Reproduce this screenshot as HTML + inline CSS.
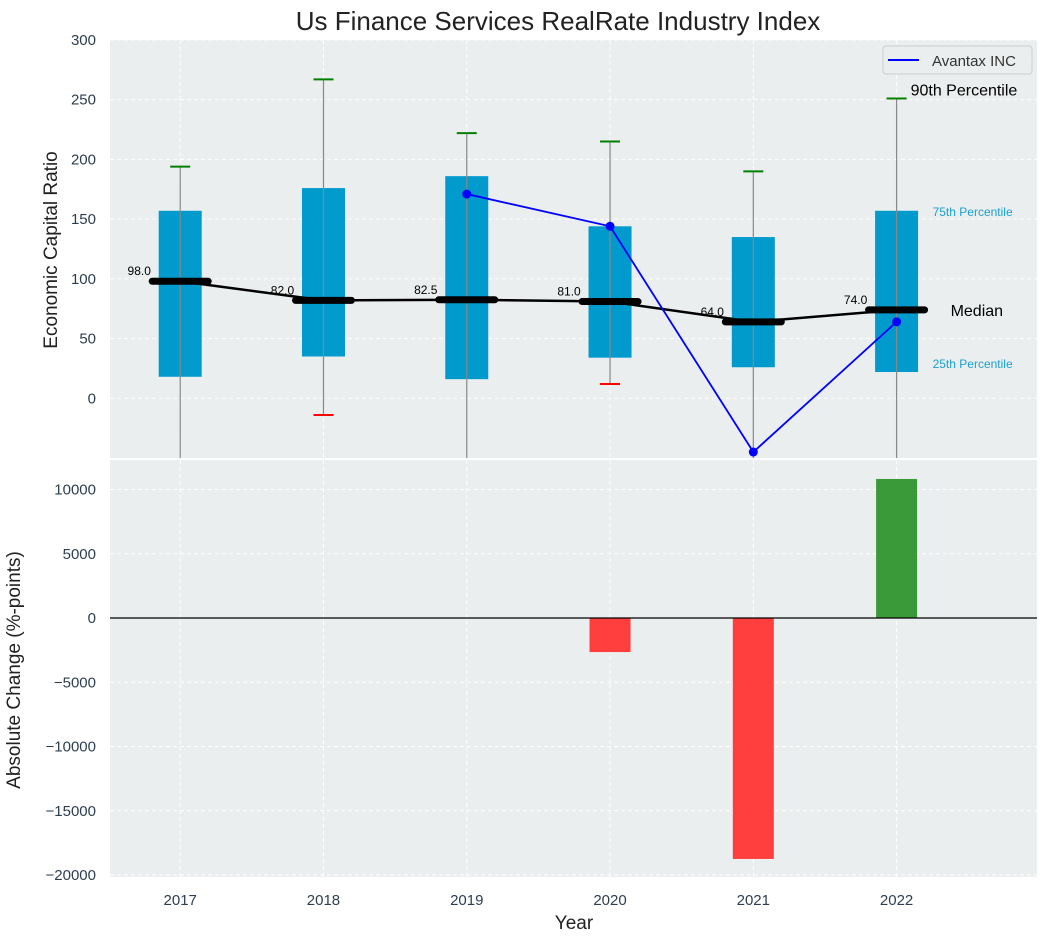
<!DOCTYPE html>
<html><head><meta charset="utf-8"><style>
body{margin:0;background:#fff;}
svg{font-family:"Liberation Sans","DejaVu Sans",sans-serif;}
</style></head><body>
<svg id="c" width="1048" height="942" xmlns="http://www.w3.org/2000/svg">
<text x="558" y="30" font-size="26" text-anchor="middle" fill="#222">Us Finance Services RealRate Industry Index</text>
<rect x="110" y="40" width="927" height="418" fill="#ebeeee"/>
<rect x="110" y="460" width="927" height="417" fill="#ebeeee"/>
<g id="g"></g>
<text transform="translate(57,250) rotate(-90)" font-size="19" text-anchor="middle" fill="#222">Economic Capital Ratio</text>
<text transform="translate(20,670) rotate(-90)" font-size="19" text-anchor="middle" fill="#222">Absolute Change (%-points)</text>
<text x="574" y="929" font-size="19" text-anchor="middle" fill="#222">Year</text>
<g>
<rect x="883" y="46" width="149" height="28" rx="3" fill="#ebeeee" stroke="#ccc"/>
<line x1="888" y1="60" x2="919" y2="60" stroke="#0000ff" stroke-width="2"/>
<text x="932" y="66" font-size="15" fill="#333">Avantax INC</text>
</g>
</svg>
<script>
const years=[2017,2018,2019,2020,2021,2022];
const q1=[18,35,16,34,26,22];
const q3=[157,176,186,144,135,157];
const med=[98,82,82.5,81,64,74];
const p90=[194,267,222,215,190,251];
const p10=[-80,-14,-80,12,-80,-80];
const avYears=[2019,2020,2021,2022];
const avVals=[171,144,-45,64];
const chg=[0,0,0,-2650,-18750,10820];
const yTicks=[0,50,100,150,200,250,300];
const cTicks=[-20000,-15000,-10000,-5000,0,5000,10000];

const NS="http://www.w3.org/2000/svg";
const g=document.getElementById('g');
const X=v=>110+(v-2016.51)/(2022.98-2016.51)*927;
const Y=v=>458-(v+50)/350*418;
const C=v=>618-v*0.01285;
function el(t,a,txt){const e=document.createElementNS(NS,t);for(const k in a)e.setAttribute(k,a[k]);if(txt!==undefined)e.textContent=txt;g.appendChild(e);return e;}
yTicks.forEach(t=>{let e=el('line',{x1:110,x2:1037,y1:Y(t),y2:Y(t),stroke:'#fff','stroke-dasharray':'4,3','stroke-width':1});

e=el('text',{x:96,y:Y(t)+5,'font-size':15,'text-anchor':'end',fill:'#2c3e50'},t);
});
cTicks.forEach(t=>{let e=el('line',{x1:110,x2:1037,y1:C(t),y2:C(t),stroke:'#fff','stroke-dasharray':'4,3','stroke-width':1});

e=el('text',{x:96,y:C(t)+5,'font-size':15,'text-anchor':'end',fill:'#2c3e50'},t<0?'\u2212'+(-t):t);
});
years.forEach(y=>{[[40,458],[460,877]].forEach(r=>{let e=el('line',{x1:X(y),x2:X(y),y1:r[0],y2:r[1],stroke:'#fff','stroke-dasharray':'4,3'});
});
let e=el('text',{x:X(y),y:905,'font-size':15,'text-anchor':'middle',fill:'#2c3e50'},y);
});
years.forEach((y,i)=>{const x=X(y);
let e=el('rect',{x:x-21.5,y:Y(q3[i]),width:43,height:Y(q1[i])-Y(q3[i]),fill:'#009acd'});

e=el('line',{x1:x,x2:x,y1:Y(p90[i]),y2:Math.min(458,Y(p10[i])),stroke:'#888','stroke-width':1.2});

e=el('line',{x1:x-10,x2:x+10,y1:Y(p90[i]),y2:Y(p90[i]),stroke:'green','stroke-width':2});

if(Y(p10[i])<458){e=el('line',{x1:x-10,x2:x+10,y1:Y(p10[i]),y2:Y(p10[i]),stroke:'red','stroke-width':2});
}
});
let e=el('polyline',{points:years.map((y,i)=>X(y)+','+Y(med[i])).join(' '),fill:'none',stroke:'#000','stroke-width':2.5});

years.forEach((y,i)=>{const x=X(y);
let e=el('line',{x1:x-28,x2:x+28,y1:Y(med[i]),y2:Y(med[i]),stroke:'#000','stroke-width':7,'stroke-linecap':'round'});

e=el('text',{x:x-41,y:Y(med[i])-6,'font-size':12,'text-anchor':'middle',fill:'#000'},med[i].toFixed(1));
});
e=el('polyline',{points:avYears.map((y,i)=>X(y)+','+Y(avVals[i])).join(' '),fill:'none',stroke:'#0000ff','stroke-width':1.8});

avYears.forEach((y,i)=>{let e=el('circle',{cx:X(y),cy:Y(avVals[i]),r:4.5,fill:'#0000ff'});
});
const xl=X(2022);
e=el('text',{x:xl+14,y:Y(p90[5])-3,'font-size':16,fill:'#000'},'90th Percentile');
e=el('text',{x:xl+36,y:Y(q3[5])+5,'font-size':12,fill:'#1a9fd0'},'75th Percentile');
e=el('text',{x:xl+36,y:Y(q1[5])-4,'font-size':12,fill:'#1a9fd0'},'25th Percentile');
e=el('text',{x:xl+54,y:Y(med[5])+6,'font-size':16,fill:'#000'},'Median');
years.forEach((y,i)=>{if(!chg[i])return;const v=chg[i];
let e=el('rect',{x:X(y)-20.5,y:Math.min(C(v),C(0)),width:41,height:Math.abs(C(v)-C(0)),fill:v<0?'#ff3e3e':'#3a9a3a'});
});
e=el('line',{x1:110,x2:1037,y1:C(0),y2:C(0),stroke:'#000','stroke-width':1.2});

</script>
</body></html>
